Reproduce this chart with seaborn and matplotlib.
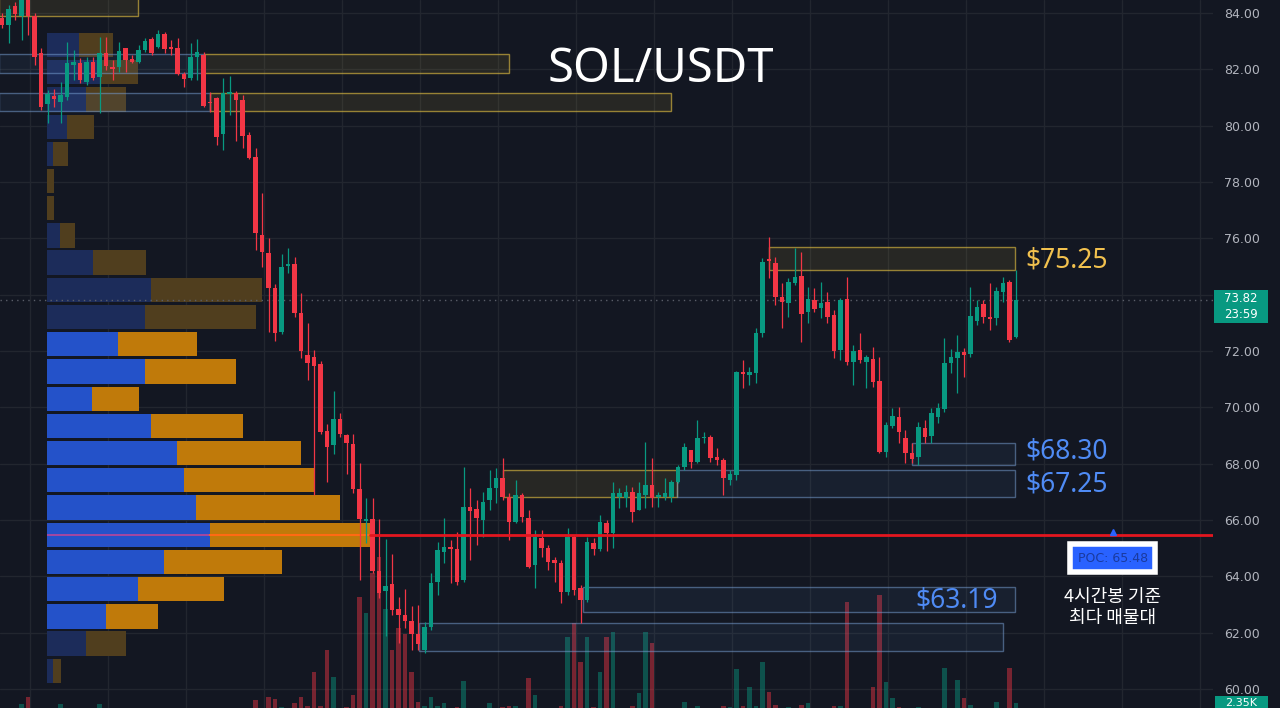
import numpy as np
import pandas as pd
import matplotlib
matplotlib.use('Agg')
import matplotlib.pyplot as plt
import matplotlib.transforms as mtransforms
from matplotlib.patches import Rectangle
import seaborn as sns

# Velas de 4 horas SOL/USDT
opens = [83.82, 83.57, 84.25, 83.89, 84.50, 83.89, 82.58, 80.77, 81.05, 80.84,
         81.02, 82.15, 82.23, 81.55, 82.26, 81.73, 82.58, 82.08, 82.08, 82.76,
         82.37, 82.26, 82.69, 83.08, 82.79, 83.25, 82.79, 82.76, 81.83, 81.69,
         82.44, 82.51, 80.84, 80.97, 79.70, 81.13, 81.16, 80.91, 79.68, 78.89,
         76.13, 75.47, 74.22, 72.68, 75.02, 75.08, 73.36, 71.87, 71.79, 71.53,
         69.16, 68.67, 69.59, 69.03, 68.71, 67.10, 65.97, 66.04, 64.20, 63.48,
         63.74, 62.84, 62.63, 62.43, 61.97, 61.39, 62.20, 63.80, 64.86, 65.04,
         64.97, 63.87, 66.46, 66.39, 66.00, 66.71, 67.14, 67.50, 66.82, 65.93,
         66.89, 66.07, 64.40, 65.36, 65.00, 64.58, 64.47, 63.45, 65.40, 63.59,
         63.16, 65.18, 64.97, 65.90, 65.54, 66.82, 66.78, 67.00, 66.36, 66.89,
         67.25, 66.82, 66.82, 66.82, 67.35, 67.88, 68.49, 68.06, 68.91, 68.95,
         68.24, 68.13, 67.42, 67.60, 71.26, 71.15, 71.22, 72.64, 75.27, 75.13,
         73.92, 73.70, 74.42, 74.66, 73.39, 73.81, 73.53, 73.74, 73.28, 72.04,
         73.85, 71.61, 72.04, 71.61, 71.72, 70.94, 68.42, 69.34, 69.66, 68.91,
         68.38, 68.24, 69.27, 68.98, 69.66, 69.94, 71.57, 71.75, 71.96, 71.89,
         73.07, 73.67, 73.21, 73.17, 74.10, 74.45, 72.50]
highs = [84.00, 84.30, 84.40, 84.60, 84.60, 84.00, 82.76, 81.27, 81.30, 81.55,
         82.97, 82.69, 82.40, 82.44, 82.44, 83.15, 83.15, 82.33, 82.97, 82.76,
         82.51, 82.86, 83.11, 83.15, 83.40, 83.33, 83.04, 83.11, 81.90, 82.94,
         83.08, 82.62, 81.20, 81.02, 81.70, 81.75, 81.23, 81.10, 79.78, 79.19,
         77.61, 76.03, 74.39, 75.44, 75.64, 75.34, 74.06, 73.01, 72.02, 71.63,
         69.40, 70.58, 69.80, 69.07, 69.07, 68.03, 66.77, 66.77, 66.04, 65.33,
         64.79, 63.28, 63.55, 62.95, 63.00, 62.38, 64.12, 65.22, 66.07, 65.29,
         65.58, 67.88, 67.14, 66.71, 67.00, 67.78, 67.85, 68.20, 66.96, 67.42,
         66.96, 66.36, 65.65, 65.65, 65.11, 64.69, 64.58, 65.72, 65.47, 63.69,
         65.40, 65.36, 66.18, 66.00, 67.35, 67.14, 67.25, 67.18, 67.35, 68.77,
         68.20, 67.00, 67.49, 67.42, 67.95, 68.74, 68.49, 69.55, 69.13, 69.02,
         68.56, 68.20, 67.78, 71.29, 71.68, 71.43, 72.82, 75.30, 76.05, 75.34,
         74.42, 74.60, 75.66, 75.52, 74.27, 74.24, 74.45, 74.10, 73.46, 73.88,
         74.63, 72.21, 72.64, 71.86, 72.14, 71.79, 69.48, 69.98, 70.01, 69.20,
         68.74, 69.48, 69.55, 69.98, 70.16, 72.46, 72.07, 72.57, 72.10, 74.27,
         73.81, 73.81, 74.42, 74.27, 74.63, 74.52, 74.88]
lows = [83.45, 82.94, 83.75, 83.04, 83.20, 82.15, 80.56, 80.10, 80.66, 80.10,
        80.91, 81.62, 81.52, 81.45, 81.62, 80.45, 81.98, 81.62, 81.90, 81.90,
        82.23, 82.23, 82.62, 82.51, 82.76, 82.58, 82.51, 81.80, 81.37, 81.62,
        81.62, 80.66, 80.49, 79.32, 79.14, 80.38, 79.46, 79.19, 78.80, 75.57,
        74.98, 72.68, 72.36, 72.62, 74.78, 73.21, 71.76, 70.97, 66.90, 69.07,
        67.36, 68.35, 68.95, 67.62, 66.96, 63.87, 65.18, 64.13, 63.22, 61.90,
        62.63, 61.64, 62.17, 61.39, 61.39, 61.28, 62.10, 63.34, 64.48, 63.77,
        63.69, 63.80, 64.58, 65.11, 65.40, 66.36, 66.61, 66.71, 65.29, 65.90,
        65.93, 64.30, 63.59, 64.69, 64.23, 63.80, 63.05, 63.34, 63.34, 62.35,
        63.09, 64.76, 64.90, 64.90, 65.00, 66.43, 66.46, 65.93, 66.36, 66.43,
        66.46, 66.46, 66.71, 66.64, 67.32, 67.78, 67.85, 68.03, 68.74, 68.06,
        67.95, 66.89, 67.25, 67.42, 70.69, 70.79, 70.87, 72.50, 74.60, 73.63,
        72.82, 73.21, 74.34, 72.32, 73.00, 73.39, 73.17, 73.00, 71.75, 71.68,
        71.50, 70.79, 71.57, 70.69, 70.72, 68.38, 68.24, 69.27, 68.74, 68.03,
        68.03, 67.95, 68.74, 68.74, 69.45, 69.84, 71.22, 70.51, 71.08, 71.79,
        72.92, 72.99, 72.75, 72.92, 73.74, 72.32, 72.46]
closes = [83.57, 84.14, 83.96, 84.50, 83.89, 82.44, 80.66, 81.12, 80.95, 81.09,
          82.23, 82.26, 81.62, 82.26, 81.69, 82.58, 82.12, 82.01, 82.65, 82.33,
          82.26, 82.69, 83.01, 82.58, 83.25, 82.72, 82.72, 81.83, 81.66, 82.44,
          82.62, 80.70, 80.81, 79.59, 81.16, 81.20, 80.91, 79.65, 78.86, 76.20,
          75.51, 74.22, 72.64, 74.98, 75.10, 73.34, 72.00, 71.56, 71.47, 69.13,
          68.60, 69.59, 69.07, 68.74, 67.10, 66.04, 66.04, 64.20, 63.41, 63.67,
          62.82, 62.63, 62.43, 61.97, 61.60, 62.20, 63.77, 64.94, 65.04, 64.97,
          63.80, 66.46, 66.32, 66.07, 66.64, 67.14, 67.50, 66.82, 65.93, 66.89,
          66.11, 64.33, 65.40, 65.00, 64.51, 64.47, 63.45, 65.40, 63.52, 63.16,
          65.22, 64.97, 65.93, 65.54, 66.96, 66.96, 67.00, 66.29, 66.96, 67.25,
          66.78, 66.89, 66.96, 67.35, 67.88, 68.59, 68.06, 68.91, 68.95, 68.20,
          68.13, 67.49, 67.64, 71.26, 71.19, 71.26, 72.64, 75.16, 75.20, 73.92,
          73.74, 74.45, 74.63, 73.31, 73.85, 73.49, 73.70, 73.21, 72.00, 73.81,
          71.61, 72.00, 71.68, 71.78, 70.90, 68.42, 69.37, 69.69, 69.13, 68.38,
          68.17, 69.30, 68.95, 69.80, 69.98, 71.57, 71.79, 71.96, 71.86, 73.24,
          73.56, 73.21, 73.14, 74.13, 74.42, 72.39, 73.82]
# volumen (miles)
volumes = [1.2, 1.0, 0.9, 2.2, 3.5, 1.4, 1.3, 0.9, 0.8, 2.2,
           1.1, 0.7, 0.8, 0.9, 0.7, 2.2, 1.0, 0.6, 0.8, 0.7,
           0.5, 0.6, 0.8, 0.7, 0.9, 0.8, 0.6, 1.0, 0.7, 0.9,
           0.8, 1.2, 0.7, 1.1, 1.3, 0.9, 1.0, 1.1, 0.9, 2.9,
           1.5, 3.5, 3.1, 1.6, 1.0, 2.4, 3.5, 1.8, 8.0, 1.9,
           12.0, 7.1, 1.5, 1.7, 3.8, 21.6, 18.7, 26.0, 28.9, 19.5,
           12.0, 16.0, 15.0, 8.0, 2.5, 1.8, 3.5, 1.9, 2.4, 1.2,
           1.6, 6.4, 1.5, 1.3, 1.4, 2.4, 1.2, 1.6, 1.8, 1.8,
           1.3, 6.9, 3.8, 1.2, 1.5, 1.1, 1.9, 14.4, 16.9, 9.8,
           14.4, 1.6, 8.0, 14.4, 15.3, 1.2, 1.1, 1.9, 4.2, 15.3,
           13.3, 1.0, 1.2, 1.4, 1.5, 2.5, 1.3, 1.8, 0.9, 1.5,
           1.1, 1.9, 1.6, 8.5, 1.8, 5.3, 1.9, 9.8, 4.4, 2.0,
           1.5, 1.6, 1.3, 2.0, 2.4, 1.2, 1.1, 1.3, 1.8, 1.9,
           20.7, 1.5, 1.3, 1.2, 5.3, 22.0, 6.2, 3.3, 1.6, 1.5,
           1.2, 1.7, 1.1, 1.4, 1.2, 8.7, 1.3, 6.5, 3.3, 2.0,
           1.4, 1.3, 1.5, 2.5, 1.4, 8.7, 2.35]

# Perfil de volumen (compra / venta por nivel de precio)
profile_levels = [60.65, 61.62, 62.58, 63.55, 64.51, 65.48, 66.45, 67.41,
                  68.38, 69.34, 70.31, 71.27, 72.24, 73.20, 74.17, 75.14,
                  76.10, 77.07, 78.03, 79.00, 79.96, 80.93, 81.90, 82.86]
profile_buy = [6, 39, 59, 91, 117, 163, 149, 137, 130, 104, 45, 98,
               71, 98, 104, 46, 13, 0, 0, 6, 20, 39, 53, 32]
profile_sell = [8, 40, 52, 86, 118, 160, 144, 130, 124, 92, 47, 91,
                79, 111, 111, 53, 15, 7, 7, 15, 27, 40, 38, 34]
value_area_low = 62.0
value_area_high = 72.7
poc_price = 65.48
last_price = 73.82
last_volume = '2.35K'

# Zonas de soporte / resistencia
zone_start = [-0.4, -0.4, 31.0, -0.4, 32.0, 118.0, 77.1, 103.8, 140.0, 89.4, 64.2]
zone_end = [20.9, 31.0, 78.0, 32.0, 102.9, 155.8, 103.8, 155.8, 155.8, 155.8, 154.0]
zone_low = [83.89, 81.87, 81.87, 80.52, 80.52, 74.88, 66.82, 66.82, 67.95, 62.72, 61.35]
zone_high = [84.80, 82.54, 82.54, 81.16, 81.16, 75.69, 67.78, 67.78, 68.74, 63.62, 62.35]
zone_kind = ['y', 'b', 'y', 'b', 'y', 'y', 'y', 'b', 'b', 'b', 'b']

label_text = ['$75.25', '$68.30', '$67.25', '$63.19']
label_price = [75.23, 68.42, 67.28, 63.16]
label_x = [157.4, 157.4, 157.4, 153.2]
label_ha = ['left', 'left', 'left', 'right']
label_color = ['#f2c14e', '#4f8bf5', '#4f8bf5', '#4f8bf5']

bg = '#131722'
sns.set_theme(style='dark', rc={'axes.facecolor': bg, 'figure.facecolor': bg})
plt.rcParams['font.family'] = ['DejaVu Sans']

df = pd.DataFrame({'open': opens, 'high': highs, 'low': lows,
                   'close': closes, 'volume': volumes})
df['x'] = np.arange(len(df))
up = df['close'] >= df['open']
colors = np.where(up, '#089981', '#f23645')

fig = plt.figure(figsize=(12.8, 7.08), dpi=100)
rect = [0, 0, 1213 / 1280, 1]
ax_bg = fig.add_axes(rect)
ax_vol = fig.add_axes(rect, sharex=ax_bg)
ax_prof = fig.add_axes([47 / 1280, 0, 1166 / 1280, 1], sharey=ax_bg)
ax = fig.add_axes(rect, sharex=ax_bg, sharey=ax_bg)
for a, z in [(ax_bg, 0), (ax_vol, 1), (ax_prof, 2), (ax, 3)]:
    a.set_zorder(z)
    for s in a.spines.values():
        s.set_visible(False)
for a in (ax_vol, ax_prof, ax):
    a.patch.set_visible(False)

ax_bg.set_xlim(-0.31, 186.31)
ax_bg.set_ylim(59.33, 84.46)

# cuadrícula
ax_bg.set_xticks(np.arange(4.31, 187, 12))
ax_bg.set_yticks(np.arange(60, 85, 2))
ax_bg.grid(True, color='#22262f', lw=1)
ax_bg.tick_params(length=0, labelbottom=False, labelleft=False)

# volumen (la base del panel queda por debajo del borde inferior)
ax_vol.bar(df['x'], df['volume'], width=0.68, color=colors, alpha=0.45, lw=0)
ax_vol.set_ylim(8 / 5.5, 716 / 5.5)
ax_vol.axis('off')

# perfil de volumen
in_va = [(p >= value_area_low) and (p <= value_area_high) for p in profile_levels]
blue_c = ['#2452c9' if v else '#1c2c5a' for v in in_va]
orange_c = ['#c07a0a' if v else '#503e1e' for v in in_va]
ax_prof.barh(profile_levels, profile_buy, height=0.86, color=blue_c, lw=0)
ax_prof.barh(profile_levels, profile_sell, left=profile_buy, height=0.86, color=orange_c, lw=0)
k = profile_levels.index(poc_price)
ax_prof.plot([0, profile_buy[k]], [poc_price, poc_price], color='#b9459a', lw=1.2)
ax_prof.plot([profile_buy[k], profile_buy[k] + profile_sell[k]], [poc_price, poc_price],
             color='#ff6a13', lw=1.5)
ax_prof.set_xlim(0, 1166)
ax_prof.axis('off')

# zonas
for s, e, lo, hi, kind in zip(zone_start, zone_end, zone_low, zone_high, zone_kind):
    if kind == 'y':
        fc, ec = (0.95, 0.8, 0.25, 0.09), (0.85, 0.72, 0.25, 0.65)
    else:
        fc, ec = (0.4, 0.6, 0.9, 0.07), (0.45, 0.6, 0.8, 0.55)
    ax.add_patch(Rectangle((s, lo), e - s, hi - lo, fc=fc, ec=ec, lw=1, zorder=1))

# velas
ax.vlines(df['x'], df['low'], df['high'], colors=colors, lw=0.9, zorder=3)
body_bottom = np.minimum(df['open'], df['close'])
body_h = np.maximum((df['close'] - df['open']).abs(), 0.035)
ax.bar(df['x'], body_h, bottom=body_bottom, width=0.68, color=colors, lw=0, zorder=4)

# líneas POC y precio actual
ax.axhline(poc_price, xmin=370 / 1213, color='#e3161f', lw=2, zorder=5)
ax.axhline(last_price, color='#5a5e69', lw=1, ls=(0, (1, 3)), zorder=2)
ax.plot([170.9], [poc_price + 0.08], marker='^', ms=4, color='#2962ff', zorder=6)

# eje derecho
ax.yaxis.tick_right()
ax.yaxis.set_major_formatter(plt.FuncFormatter(lambda v, p: f'{v:.2f}'))
ax.tick_params(axis='y', length=0, pad=8, labelcolor='#b2b5be', labelsize=9)
ax.tick_params(axis='x', length=0, labelbottom=False)
ax.grid(False)

trans = mtransforms.blended_transform_factory(ax.transAxes, ax.transData)
ax.add_patch(Rectangle((1214 / 1213, 72.98), 54 / 1213, 1.20, transform=trans,
                       fc='#089981', ec='none', clip_on=False, zorder=6))
ax.text(1241 / 1213, 73.87, f'{last_price:.2f}', transform=trans, ha='center', va='center',
        color='white', fontsize=8.5, zorder=7, clip_on=False)
ax.text(1241 / 1213, 73.28, '23:59', transform=trans, ha='center', va='center',
        color='white', fontsize=8.5, zorder=7, clip_on=False)
ax.add_patch(Rectangle((1215 / 1213, 59.0), 53 / 1213, 0.74, transform=trans,
                       fc='#089981', ec='none', clip_on=False, zorder=6))
ax.text(1241 / 1213, 59.52, last_volume, transform=trans, ha='center', va='center',
        color='white', fontsize=8, zorder=7, clip_on=False)

# etiquetas de zonas
for t, p, x, ha, c in zip(label_text, label_price, label_x, label_ha, label_color):
    ax.text(x, p, t, ha=ha, va='center', color=c, fontsize=19, family='Noto Sans', zorder=7)

# caja POC
ax.text(170.9, 64.65, f'POC: {poc_price:.2f}', ha='center', va='center', color='#1a3a9e',
        fontsize=9, zorder=7,
        bbox=dict(boxstyle='square,pad=0.6', fc='#2962ff', ec='white', lw=4))
ax.text(170.9, 62.90, '4시간봉 기준\n최다 매물대', ha='center', va='center', color='white',
        fontsize=13, linespacing=1.15, family=['Noto Sans CJK KR', 'DejaVu Sans'],
        fontweight='medium', zorder=7)

# título
fig.text(661 / 1280, 1 - 70 / 708, 'SOL/USDT', ha='center', va='center', color='white',
         fontsize=34, family='Noto Sans', fontweight='medium')

fig.savefig('out.png', dpi=100, facecolor=bg)
